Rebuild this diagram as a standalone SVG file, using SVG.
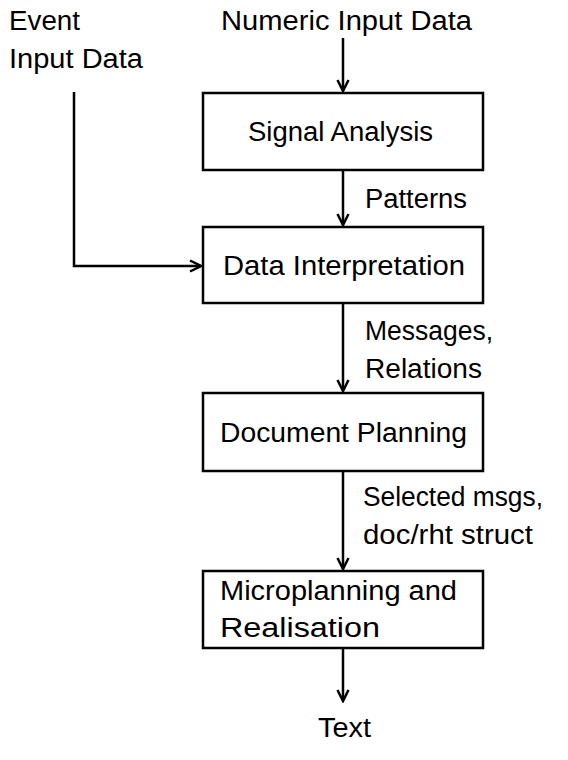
<svg xmlns="http://www.w3.org/2000/svg" width="568" height="760" viewBox="0 0 568 760">
<style>
text{font-family:"Liberation Sans",Arial,sans-serif;font-size:27px;fill:#000}
.box{fill:#fff;stroke:#000;stroke-width:2.5}
.c{fill:none;stroke:#000;stroke-width:2.5}
</style>
<defs>
<marker id="ah" viewBox="0 0 14 14" refX="12.5" refY="7" markerWidth="14" markerHeight="14" markerUnits="userSpaceOnUse" orient="auto">
<path d="M1.5,1.5 L12.5,7 L1.5,12.5" fill="none" stroke="#000" stroke-width="2.5"/>
</marker>
</defs>
<rect width="568" height="760" fill="#fff"/>
<g id="connectors">
<line class="c" x1="343" y1="38" x2="343" y2="91" marker-end="url(#ah)"/>
<line class="c" x1="343" y1="170" x2="343" y2="225" marker-end="url(#ah)"/>
<polyline class="c" points="74,92 74,266 201,266" marker-end="url(#ah)"/>
<line class="c" x1="343" y1="303" x2="343" y2="391" marker-end="url(#ah)"/>
<line class="c" x1="343" y1="471" x2="343" y2="569" marker-end="url(#ah)"/>
<line class="c" x1="343" y1="648" x2="343" y2="701" marker-end="url(#ah)"/>
</g>
<g id="event-input"><text x="9" y="30" textLength="71" lengthAdjust="spacingAndGlyphs">Event</text><text x="9" y="68" textLength="134" lengthAdjust="spacingAndGlyphs">Input Data</text></g>
<g id="numeric-input"><text x="221" y="30" textLength="251" lengthAdjust="spacingAndGlyphs">Numeric Input Data</text></g>
<g id="signal-analysis"><rect class="box" x="203" y="93" width="280" height="77"/><text x="248" y="141" textLength="185" lengthAdjust="spacingAndGlyphs">Signal Analysis</text></g>
<g id="label-patterns"><text x="365" y="208" textLength="102" lengthAdjust="spacingAndGlyphs">Patterns</text></g>
<g id="data-interpretation"><rect class="box" x="203" y="227" width="280" height="76"/><text x="223" y="275" textLength="242" lengthAdjust="spacingAndGlyphs">Data Interpretation</text></g>
<g id="label-messages"><text x="365" y="340" textLength="128" lengthAdjust="spacingAndGlyphs">Messages,</text><text x="365" y="378" textLength="117" lengthAdjust="spacingAndGlyphs">Relations</text></g>
<g id="document-planning"><rect class="box" x="203" y="393" width="280" height="78"/><text x="220" y="442" textLength="247" lengthAdjust="spacingAndGlyphs">Document Planning</text></g>
<g id="label-selected"><text x="363" y="506" textLength="180" lengthAdjust="spacingAndGlyphs">Selected msgs,</text><text x="363" y="544" textLength="170" lengthAdjust="spacingAndGlyphs">doc/rht struct</text></g>
<g id="microplanning"><rect class="box" x="203" y="571" width="280" height="77"/><text x="220" y="600" textLength="237" lengthAdjust="spacingAndGlyphs">Microplanning and</text><text x="220" y="637" textLength="160" lengthAdjust="spacingAndGlyphs">Realisation</text></g>
<g id="text-output"><text x="318" y="737" textLength="53" lengthAdjust="spacingAndGlyphs">Text</text></g>
</svg>
